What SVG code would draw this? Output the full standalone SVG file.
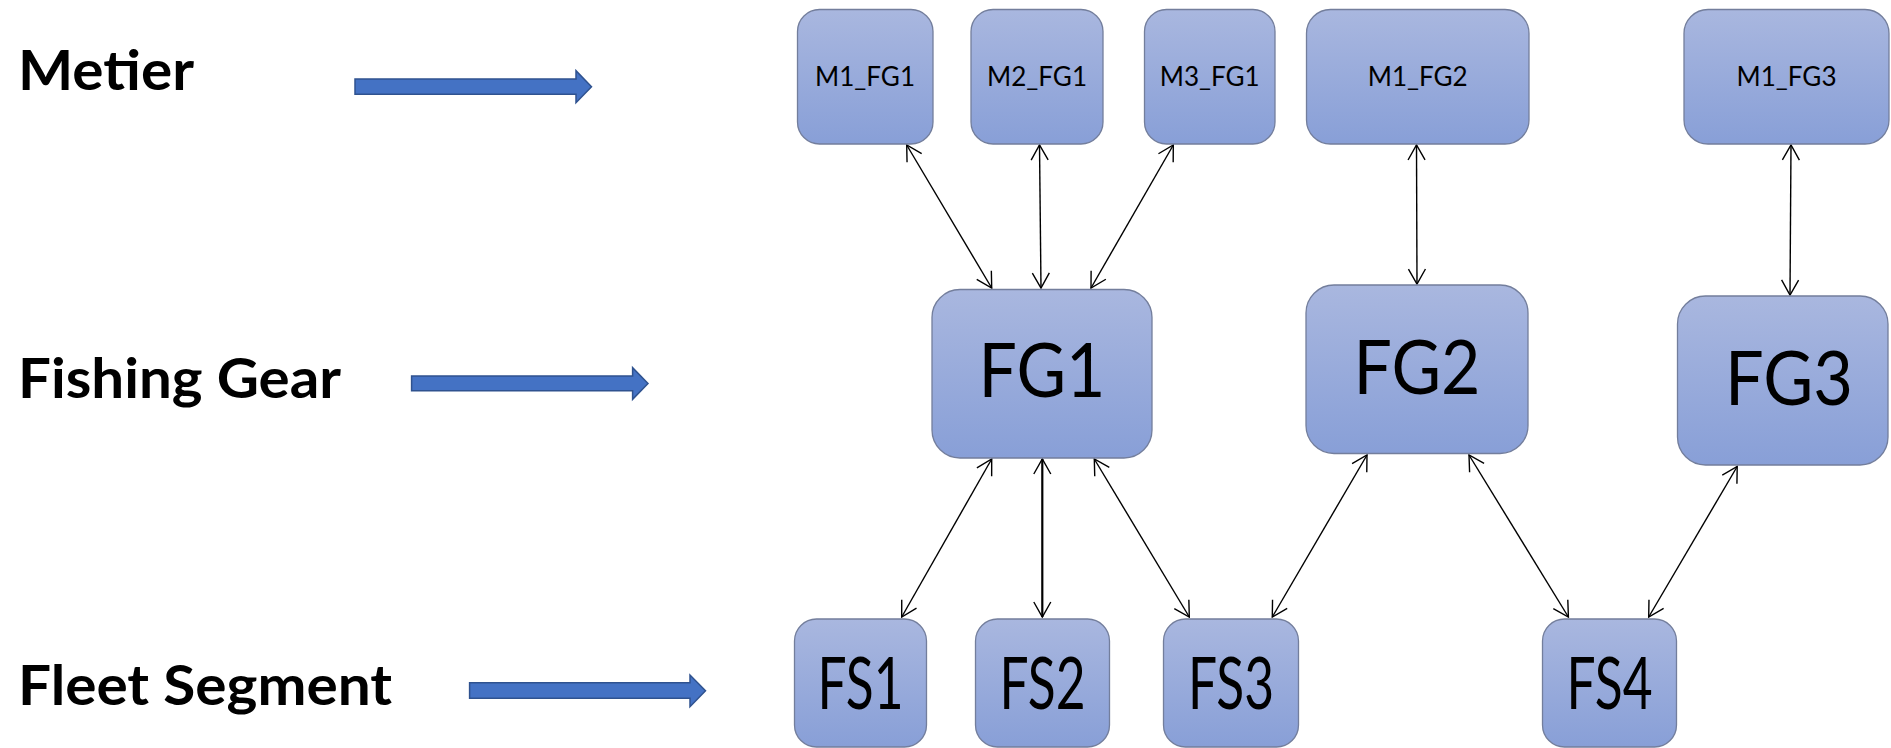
<svg xmlns="http://www.w3.org/2000/svg" width="1891" height="748" viewBox="0 0 1891 748">
<defs>
<linearGradient id="nodeGrad" x1="0" y1="0" x2="0" y2="1">
<stop offset="0" stop-color="#A9B7DF"/>
<stop offset="1" stop-color="#889FD7"/>
</linearGradient>
<marker id="head" viewBox="-16 -10 18 20" refX="0" refY="0" markerWidth="18" markerHeight="20" markerUnits="userSpaceOnUse" orient="auto-start-reverse" overflow="visible">
<path d="M-15,-8.5 L0,0 L-15,8.5" fill="none" stroke="#000" stroke-width="1.4"/>
</marker>
<style>
.box{fill:url(#nodeGrad);stroke:#737E9C;stroke-width:1.3}
.mt{font-family:Lato,"Liberation Sans",sans-serif;font-size:26px;fill:#000;text-anchor:middle}
.fg{font-family:Lato,"Liberation Sans",sans-serif;font-size:75px;fill:#000;text-anchor:middle}
.fs{font-family:Lato,"Liberation Sans",sans-serif;font-size:72px;fill:#000;text-anchor:middle}
.lbl{font-family:Lato,"Liberation Sans",sans-serif;font-size:56px;font-weight:bold;fill:#000}
.blk{fill:#4472C4;stroke:#2F528F;stroke-width:1.5}
.con{stroke:#000;stroke-width:1.4;fill:none;marker-start:url(#head);marker-end:url(#head)}
</style>
</defs>
<rect width="1891" height="748" fill="#FFFFFF"/>

<g id="labels">
<text class="lbl" x="18" y="90" textLength="176" lengthAdjust="spacingAndGlyphs">Metier</text>
<text class="lbl" x="18" y="398" textLength="323" lengthAdjust="spacingAndGlyphs">Fishing Gear</text>
<text class="lbl" x="18" y="705" textLength="374" lengthAdjust="spacingAndGlyphs">Fleet Segment</text>
</g>

<g id="level-arrows">
<path class="blk" d="M355,79 H576 V70.7 L591.5,86.7 L576,102.7 V94.3 H355 Z"/>
<path class="blk" d="M411.6,376 H632.6 V367.7 L648,383.5 L632.6,399.3 V390.7 H411.6 Z"/>
<path class="blk" d="M469.6,682.7 H690 V675 L705.5,690.7 L690,706.7 V698.3 H469.6 Z"/>
</g>

<g id="connectors">
<line class="con" x1="906.7" y1="145" x2="991.7" y2="288"/>
<line class="con" x1="1039.5" y1="145" x2="1041" y2="288"/>
<line class="con" x1="1173.3" y1="145" x2="1091" y2="288"/>
<line class="con" x1="1416.5" y1="145" x2="1417" y2="284"/>
<line class="con" x1="1791" y1="145" x2="1790" y2="295"/>
<line class="con" x1="991.7" y1="459" x2="901.7" y2="617"/>
<line class="con" style="stroke-width:2.2" x1="1042.3" y1="459" x2="1042.3" y2="617"/>
<line class="con" x1="1094.3" y1="459" x2="1189.3" y2="617"/>
<line class="con" x1="1367" y1="455" x2="1272.3" y2="617"/>
<line class="con" x1="1469" y1="455" x2="1568.4" y2="617"/>
<line class="con" x1="1737.2" y1="466.5" x2="1648.7" y2="617"/>
</g>

<g id="M1_FG1"><rect class="box" x="797.5" y="9.5" width="135.5" height="134.5" rx="22"/><text class="mt" x="865" y="86" textLength="100" lengthAdjust="spacingAndGlyphs">M1_FG1</text></g>
<g id="M2_FG1"><rect class="box" x="971" y="9.5" width="132" height="134.5" rx="22"/><text class="mt" x="1037" y="86" textLength="100" lengthAdjust="spacingAndGlyphs">M2_FG1</text></g>
<g id="M3_FG1"><rect class="box" x="1144.5" y="9.5" width="130.5" height="134.5" rx="22"/><text class="mt" x="1209.7" y="86" textLength="100" lengthAdjust="spacingAndGlyphs">M3_FG1</text></g>
<g id="M1_FG2"><rect class="box" x="1306.5" y="9.5" width="222.5" height="134.5" rx="24"/><text class="mt" x="1417.7" y="86" textLength="100" lengthAdjust="spacingAndGlyphs">M1_FG2</text></g>
<g id="M1_FG3"><rect class="box" x="1684" y="9.5" width="205" height="134.5" rx="24"/><text class="mt" x="1786.5" y="86" textLength="100" lengthAdjust="spacingAndGlyphs">M1_FG3</text></g>

<g id="FG1"><rect class="box" x="932" y="289.5" width="220" height="168.5" rx="28"/><text class="fg" x="1042" y="397" textLength="127" lengthAdjust="spacingAndGlyphs">FG1</text></g>
<g id="FG2"><rect class="box" x="1306" y="285" width="222" height="168.5" rx="28"/><text class="fg" x="1417" y="394" textLength="127" lengthAdjust="spacingAndGlyphs">FG2</text></g>
<g id="FG3"><rect class="box" x="1677.5" y="296" width="210.5" height="169" rx="28"/><text class="fg" x="1789" y="405" textLength="128" lengthAdjust="spacingAndGlyphs">FG3</text></g>

<g id="FS1"><rect class="box" x="794.5" y="619" width="132" height="128" rx="22"/><text class="fs" x="860.5" y="709" textLength="86" lengthAdjust="spacingAndGlyphs">FS1</text></g>
<g id="FS2"><rect class="box" x="975.5" y="619" width="134" height="128" rx="22"/><text class="fs" x="1042.5" y="709" textLength="86" lengthAdjust="spacingAndGlyphs">FS2</text></g>
<g id="FS3"><rect class="box" x="1163.5" y="619" width="135" height="128" rx="22"/><text class="fs" x="1231" y="709" textLength="86" lengthAdjust="spacingAndGlyphs">FS3</text></g>
<g id="FS4"><rect class="box" x="1542.5" y="619" width="134" height="128" rx="22"/><text class="fs" x="1609.5" y="709" textLength="86" lengthAdjust="spacingAndGlyphs">FS4</text></g>
</svg>
